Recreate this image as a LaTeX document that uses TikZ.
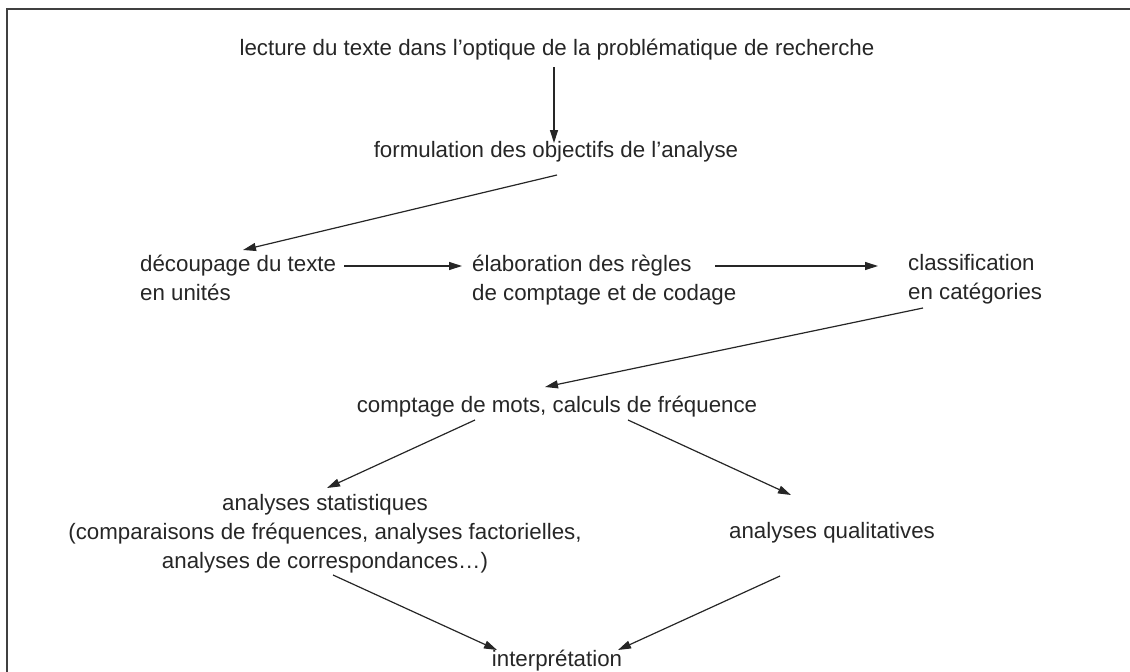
\documentclass[tikz,border=0pt]{standalone}
\usepackage{fontspec}
\setmainfont{Liberation Sans}
\usetikzlibrary{arrows.meta}
\begin{document}
\begin{tikzpicture}[x=1pt,y=-1pt,
  lbl/.style={inner sep=0pt, font=\fontsize{22.3}{29}\selectfont, text=black!85},
  flow/.style={-{Triangle[length=13pt,width=8pt]}, line width=1.2pt, draw=black!85},
]
\useasboundingbox (0,0) rectangle (1130,672);
% frame
\draw[line width=2.4pt, draw=black!75] (7,700) |- (1140,9);

% steps (multi-line nodes are placed by the baseline of their last line)
\node[lbl, anchor=base] (N1) at (557,55.8) {lecture du texte dans l'optique de la problématique de recherche};
\node[lbl, anchor=base] (N2) at (556,157.8) {formulation des objectifs de l'analyse};
\node[lbl, anchor=base west, align=left] (N3) at (140,300.8) {découpage du texte\\en unités};
\node[lbl, anchor=base west, align=left] (N4) at (472,300.8) {élaboration des règles\\de comptage et de codage};
\node[lbl, anchor=base west, align=left] (N5) at (908,299) {classification\\en catégories};
\node[lbl, anchor=base] (N6) at (557,412.8) {comptage de mots, calculs de fréquence};
\node[lbl, anchor=base, align=center] (N7) at (325,568) {analyses statistiques\\(comparaisons de fréquences, analyses factorielles,\\analyses de correspondances…)};
\node[lbl, anchor=base] (N8) at (832,538.8) {analyses qualitatives};
\node[lbl, anchor=base] (N9) at (557,666.5) {interprétation};

% connectors
\draw[flow] ([shift={(-3,11.2)}]N1.base) -- ([shift={(-2,-14.8)}]N2.base);
\draw[flow] ([shift={(1,17.2)}]N2.base) -- ([shift={(103,-50.8)}]N3.base west);
\draw[flow] ([shift={(204,-34.8)}]N3.base west) -- ([shift={(-10,-34.8)}]N4.base west);
\draw[flow] ([shift={(243,-34.8)}]N4.base west) -- ([shift={(-30,-33)}]N5.base west);
\draw[flow] ([shift={(15,9)}]N5.base west) -- ([shift={(-12,-25.8)}]N6.base);
\draw[flow] ([shift={(-82,7.2)}]N6.base) -- ([shift={(2,-80)}]N7.base);
\draw[flow] ([shift={(71,7.2)}]N6.base) -- ([shift={(-41,-43.8)}]N8.base);
\draw[flow] ([shift={(8,7)}]N7.base) -- ([shift={(-60,-16.5)}]N9.base);
\draw[flow] ([shift={(-52,37.2)}]N8.base) -- ([shift={(61,-16.5)}]N9.base);
\end{tikzpicture}
\end{document}
